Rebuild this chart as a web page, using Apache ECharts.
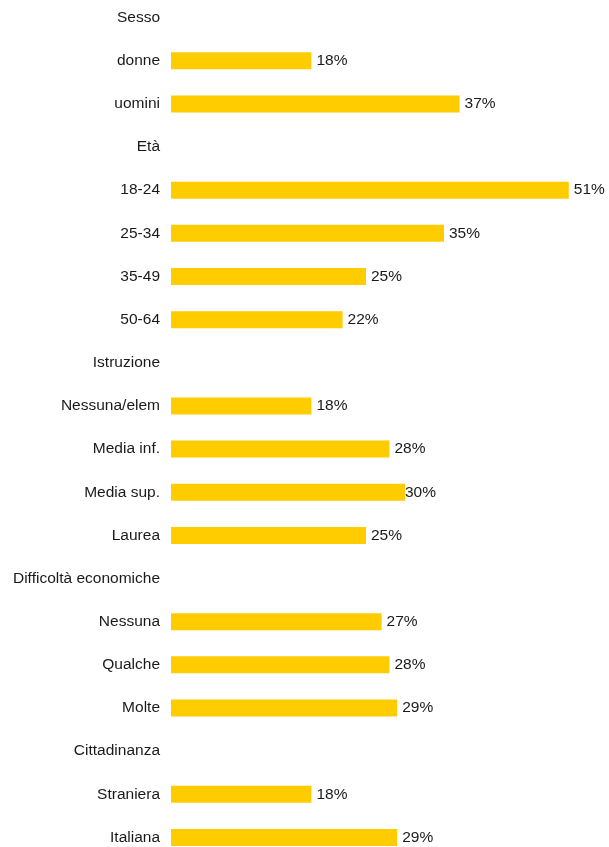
<!DOCTYPE html>
<html>
<head>
<meta charset="utf-8">
<script src="https://cdn.jsdelivr.net/npm/echarts@6/dist/echarts.min.js"></script>
<style>
  html, body { margin: 0; padding: 0; background: #fff; }
  #chart { width: 609px; height: 847px; }
</style>
</head>
<body>
<div id="chart"></div>
<script>
// rows top to bottom; group headers carry no value
const categories = [
  'Sesso', 'donne', 'uomini',
  'Età', '18-24', '25-34', '35-49', '50-64',
  'Istruzione', 'Nessuna/elem', 'Media inf.', 'Media sup.', 'Laurea',
  'Difficoltà economiche', 'Nessuna', 'Qualche', 'Molte',
  'Cittadinanza', 'Straniera', 'Italiana'
]
const values = [
  null, 18, 37,
  null, 51, 35, 25, 22,
  null, 18, 28, 30, 25,
  null, 27, 28, 29,
  null, 18, 29
]

const FONT = 'Liberation Sans, Arial, sans-serif'

const chart = echarts.init(document.getElementById('chart'))

const seriesData = values.map((v, i) => {
  if (v === null) return '-'
  // the 30% label sits right on the bar end in the original
  if (categories[i] === 'Media sup.') return { value: v, label: { distance: 0 } }
  return v
})

chart.setOption({
  animation: false,
  backgroundColor: '#fff',
  grid: {
    left: 171,
    right: 9,
    top: -4,
    height: 863,
    containLabel: false,
    outerBoundsMode: 'none',
  },
  xAxis: {
    type: 'value',
    min: 0,
    max: 55,
    show: false,
  },
  yAxis: {
    type: 'category',
    data: categories,
    inverse: true,
    axisLine: { show: false },
    axisTick: { show: false },
    splitLine: { show: false },
    axisLabel: {
      margin: 11,
      color: '#1a1a1a',
      fontFamily: FONT,
      fontSize: 15.5,
    },
  },
  series: [
    {
      type: 'bar',
      data: seriesData,
      barWidth: 17,
      itemStyle: { color: '#ffcc00' },
      label: {
        show: true,
        position: 'right',
        distance: 5,
        formatter: '{c}%',
        color: '#1a1a1a',
        fontFamily: FONT,
        fontSize: 15.5,
      },
    },
  ],
})
</script>
</body>
</html>
